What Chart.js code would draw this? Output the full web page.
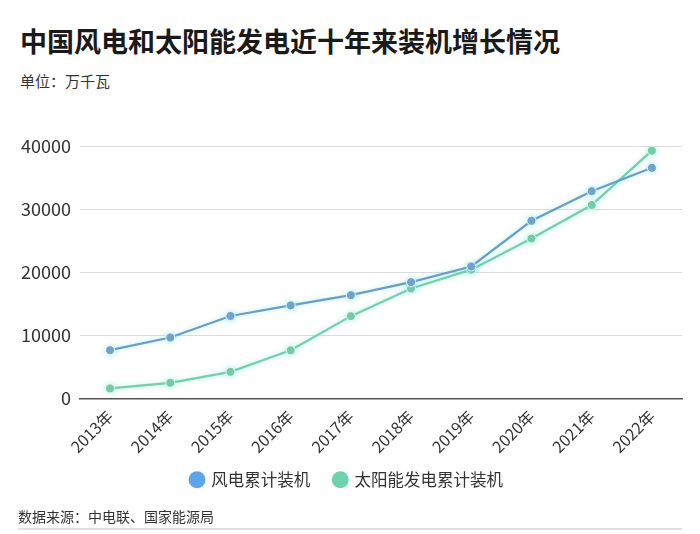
<!DOCTYPE html>
<html><head><meta charset="utf-8">
<script src="https://cdn.jsdelivr.net/npm/chart.js@4"></script>
<style>
html,body{margin:0;padding:0;background:#fff;width:700px;height:534px;overflow:hidden;font-family:"Noto Sans CJK SC","Noto Sans",sans-serif;}
#title{position:absolute;left:20px;top:21px;font-size:27px;font-weight:bold;color:#1a1a1a;}
#unit{position:absolute;left:20px;top:70px;font-size:15px;color:#333;}
#wrap{position:absolute;left:0;top:120px;width:700px;height:389px;}
#src{position:absolute;left:18px;top:506px;font-size:14px;color:#333;}
#rule{position:absolute;left:18px;top:528px;width:664px;height:2px;background:#e2e2e2;}
</style></head>
<body>
<div id="title">中国风电和太阳能发电近十年来装机增长情况</div>
<div id="unit">单位：万千瓦</div>
<div id="wrap"><canvas id="c"></canvas></div>
<div id="src">数据来源：中电联、国家能源局</div>
<div id="rule"></div>
<script>
const categories = ["2013年","2014年","2015年","2016年","2017年","2018年","2019年","2020年","2021年","2022年"];
const windValues = [7652, 9657, 13075, 14747, 16367, 18426, 20915, 28153, 32848, 36544];
const solarValues = [1589, 2486, 4218, 7631, 13042, 17433, 20418, 25343, 30656, 39261];
const seriesNames = ["风电累计装机", "太阳能发电累计装机"];
const yTicks = [0, 10000, 20000, 30000, 40000];

const windLine = '#6b9dc6', solarLine = '#76cfa6';
const legendColors = ['#5aa6e8', '#6dd3ab'];

const glow = {
  id: 'glow',
  beforeDatasetsDraw(chart) { const c = chart.ctx; c.save(); c.shadowColor = 'rgba(110,230,220,0.55)'; c.shadowBlur = 5; },
  afterDatasetsDraw(chart) { chart.ctx.restore(); }
};
const legendShift = {
  id: 'legendShift',
  afterLayout(chart) { chart.legend.top -= 11; chart.legend.bottom -= 11; }
};

new Chart(document.getElementById('c'), {
  type: 'line',
  data: {
    labels: categories,
    datasets: [
      {label: seriesNames[0], data: windValues, borderColor: windLine, backgroundColor: windLine,
       borderWidth: 2.2, pointRadius: 4.5, pointBackgroundColor: '#6f9fcb', pointBorderColor: 'rgba(255,255,255,0.8)', pointBorderWidth: 1, tension: 0},
      {label: seriesNames[1], data: solarValues, borderColor: solarLine, backgroundColor: solarLine,
       borderWidth: 2.2, pointRadius: 4.5, pointBackgroundColor: '#74cba2', pointBorderColor: 'rgba(255,255,255,0.8)', pointBorderWidth: 1, tension: 0}
    ]
  },
  plugins: [glow, legendShift],
  options: {
    responsive: true, maintainAspectRatio: false, animation: false,
    layout: {padding: {left: 12, right: 18, top: 26, bottom: 0}},
    plugins: {
      legend: {
        position: 'bottom',
        labels: {
          usePointStyle: true, pointStyle: 'circle', boxWidth: 12, boxHeight: 12, padding: 24,
          font: {size: 16.5, family: '"Noto Sans CJK SC"'}, color: '#333',
          generateLabels: (chart) => chart.data.datasets.map((d, i) => ({
            text: d.label, fillStyle: legendColors[i], strokeStyle: legendColors[i], lineWidth: 0,
            pointStyle: 'circle', datasetIndex: i, hidden: false, fontColor: '#333'
          }))
        }
      },
      tooltip: {enabled: false}
    },
    scales: {
      x: {
        offset: true,
        grid: {display: false, drawTicks: true, tickLength: 6, tickColor: '#555'},
        border: {display: true, color: '#555', width: 1.5},
        ticks: {maxRotation: 45, minRotation: 45, font: {size: 16, family: '"Noto Sans CJK SC"'}, color: '#333', padding: 2}
      },
      y: {
        min: 0, max: 40000,
        afterBuildTicks: (axis) => { axis.ticks = yTicks.map(v => ({value: v})); },
        grid: {color: '#dcdcdc', lineWidth: 1, drawTicks: false},
        border: {display: false},
        ticks: {font: {size: 18, family: '"Noto Sans CJK SC"'}, color: '#333', padding: 9, callback: (v) => String(v)}
      }
    }
  }
});
</script>
</body></html>
